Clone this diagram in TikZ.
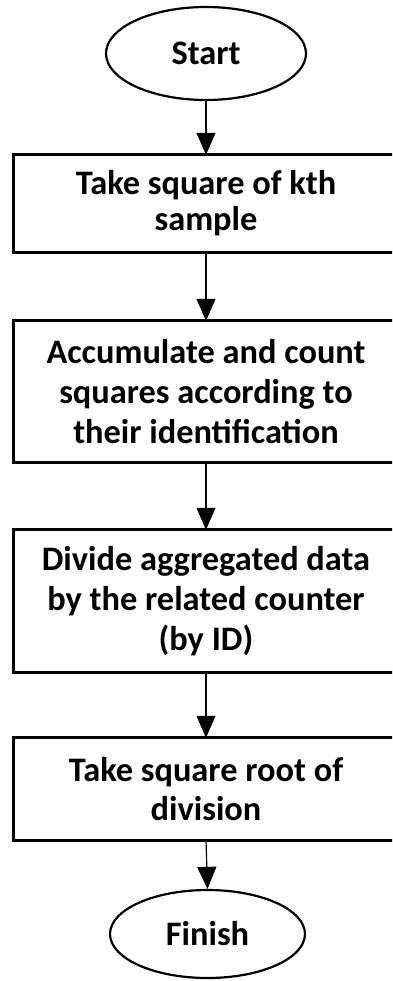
\documentclass[tikz,border=0pt]{standalone}
\usepackage{fontspec}
\setmainfont{Carlito}
\usetikzlibrary{arrows.meta,shapes.geometric}

\tikzset{
  % text block of a step; its frame is drawn separately and runs off the right edge
  stepbox/.style={rectangle, inner sep=0pt, minimum width=384bp, align=center,
    font=\bfseries\fontsize{34.5}{40}\selectfont},
  frame/.style={draw=black, line width=3.2bp},
  terminal/.style={draw=black, line width=2.2bp, ellipse, inner sep=0pt,
    font=\bfseries\fontsize{34.5}{40}\selectfont},
  flow/.style={draw=black, line width=1.2bp, -{Triangle[width=19bp,length=22bp]}}
}

\begin{document}
\begin{tikzpicture}[x=1bp, y=-1bp]
  % page frame
  \useasboundingbox (0,0) rectangle (392,981);
  \fill[white] (0,0) rectangle (392,981);
  \clip (0,0) rectangle (392,981);

  % terminals
  \node[terminal, minimum width=200bp, minimum height=93bp] (start) at (206,53.5) {Start};
  \node[terminal, minimum width=195bp, minimum height=88bp] (finish) at (207.5,934) {Finish};

  % processing steps
  \node[stepbox, minimum height=97bp, font=\bfseries\fontsize{34.5}{36}\selectfont] (s1) at (206,203.5)
    {Take square of kth\\sample};
  \node[stepbox, minimum height=141bp] (s2) at (206,391.5)
    {Accumulate and count\\squares according to\\their identification};
  \node[stepbox, minimum height=142bp] (s3) at (206,601)
    {Divide aggregated data\\by the related counter\\(by ID)};
  \node[stepbox, minimum height=102bp] (s4) at (206,789)
    {Take square root of\\division};

  % frames of the steps
  \foreach \s in {s1,s2,s3,s4}
    \draw[frame] (\s.north west) rectangle ([xshift=40bp]\s.south east);

  % connectors
  \draw[flow] (start.south) -- (s1.north);
  \draw[flow] (s1.south) -- (s2.north);
  \draw[flow] (s2.south) -- (s3.north);
  \draw[flow] (s3.south) -- (s4.north);
  \draw[flow] (s4.south) -- (finish.north);
\end{tikzpicture}
\end{document}
